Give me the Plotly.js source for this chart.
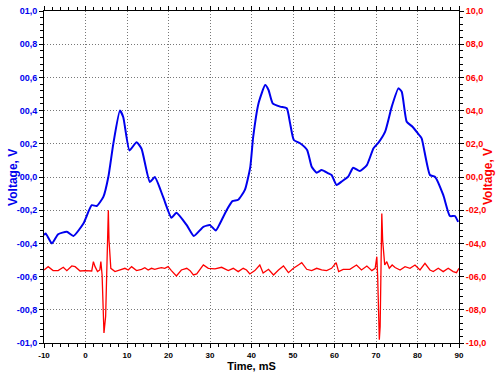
<!DOCTYPE html>
<html>
<head>
<meta charset="utf-8">
<script src="https://cdn.plot.ly/plotly-3.0.1.min.js"></script>
<style>html,body{margin:0;padding:0;background:#fff;}#chart{width:500px;height:377px;}</style>
</head>
<body>
<div id="chart"></div>
<script>
// Blue trace (left axis, V)
const blueTime = [-10,-9.6,-8.1,-6.6,-4.5,-2.9,-0.5,1.5,2.7,4.3,5.5,6.7,8.3,9.1,10.6,12.3,13.5,15.5,16.7,18.7,20.7,21.9,24.4,26.1,28.4,30,31.4,32.4,34.0,35.4,36.8,38.4,39.7,40.4,41.7,43.3,44.1,45.1,46.9,48.5,49.3,50.2,51.7,53.4,54.5,55.7,56.9,58.5,59.3,60.5,61.7,63.3,64.5,66.1,67.8,69.4,70.6,72.2,73.8,75.4,76.2,77.4,78.8,80.4,81.0,83.0,84.2,86.2,87.8,89.0,89.8];
const blueVolt = [-0.35,-0.34,-0.40,-0.345,-0.33,-0.355,-0.28,-0.17,-0.175,-0.12,0.00,0.20,0.40,0.36,0.16,0.21,0.17,-0.03,0.00,-0.12,-0.245,-0.215,-0.29,-0.355,-0.30,-0.29,-0.323,-0.28,-0.20,-0.145,-0.137,-0.078,0.06,0.24,0.445,0.554,0.524,0.444,0.424,0.414,0.323,0.223,0.203,0.163,0.062,0.026,0.042,0.022,0.012,-0.048,-0.028,0.002,0.056,0.036,0.072,0.173,0.207,0.273,0.424,0.534,0.514,0.333,0.303,0.253,0.233,0.012,0.002,-0.108,-0.235,-0.235,-0.27];

// Red trace (right axis, V)
const redTime = [-10,-9.0,-7.8,-6.6,-5.35,-4.5,-3.3,-2.5,-1.3,-0.1,1.5,1.9,2.3,2.9,3.45,3.7,4.0,4.3,4.45,4.85,5.1,5.25,5.5,5.66,6.1,7.1,8.3,9.5,10.3,11.1,12.3,13.5,14.3,15.1,15.9,16.7,17.5,18.3,19.1,19.9,20.7,21.9,23.1,24.4,25.2,26,26.8,28.4,29.6,31.2,32.8,34.4,35.6,36.8,38,38.8,39.6,40.8,42,42.8,44.1,45.3,46.5,47.7,48.9,50.1,51.3,52.1,53.3,54.5,55.7,56.9,58.1,59.3,60.4,61,62.1,63.7,65.3,66.5,67.8,69,69.8,70.2,70.4,70.6,70.8,71.0,71.2,71.4,71.6,72.1,72.6,73.2,73.9,74.6,75.8,77,78.2,79.4,80.6,81.8,83,83.8,85,86.2,87.4,88.6,89.4,90];
const redVolt = [-5.6,-5.4,-5.64,-5.64,-5.44,-5.64,-5.36,-5.4,-5.66,-5.64,-5.66,-5.1,-5.4,-5.7,-5.6,-5.1,-5.9,-7.8,-9.4,-8.4,-5.4,-3.7,-2.0,-3.8,-5.5,-5.7,-5.6,-5.5,-5.6,-5.4,-5.64,-5.56,-5.46,-5.6,-5.5,-5.56,-5.5,-5.46,-5.5,-5.4,-5.64,-5.96,-5.6,-5.5,-5.64,-5.9,-5.84,-5.3,-5.5,-5.54,-5.44,-5.64,-5.5,-5.7,-5.5,-5.6,-5.84,-5.64,-5.3,-5.78,-5.56,-5.9,-5.6,-5.36,-5.76,-5.5,-5.3,-5.16,-5.56,-5.64,-5.5,-5.6,-5.64,-5.5,-5.16,-5.7,-5.56,-5.56,-5.3,-5.6,-5.36,-5.64,-5.5,-4.8,-6.0,-8.4,-9.8,-9.0,-4.0,-2.2,-3.8,-5.3,-5.1,-5.5,-5.3,-5.45,-5.6,-5.4,-5.5,-5.3,-5.6,-5.2,-5.6,-5.7,-5.5,-5.7,-5.5,-5.7,-5.76,-5.5];

// Tick labels
const xTicks = [-10,0,10,20,30,40,50,60,70,80,90];
const leftTickVals = [1,0.8,0.6,0.4,0.2,0,-0.2,-0.4,-0.6,-0.8,-1];
const leftTickText = ["01,0","00,8","00,6","00,4","00,2","00,0","-00,2","-00,4","-00,6","-00,8","-01,0"];
const rightTickVals = [10,8,6,4,2,0,-2,-4,-6,-8,-10];
const rightTickText = ["10,0","08,0","06,0","04,0","02,0","00,0","-02,0","-04,0","-06,0","-08,0","-10,0"];

const FONT = "Liberation Sans, Arial, sans-serif";
const BLUE = "#0000ee";
const RED = "#ff0000";
const GRIDDASH = "1px,2px";

const traces = [
  {x: blueTime, y: blueVolt, type: "scatter", mode: "lines", line: {color: BLUE, width: 2, shape: "spline", smoothing: 0.5}, yaxis: "y", hoverinfo: "skip"},
  {x: redTime, y: redVolt, type: "scatter", mode: "lines", line: {color: RED, width: 1.3}, yaxis: "y2", hoverinfo: "skip"}
];

const layout = {
  width: 500, height: 377,
  margin: {l: 44, r: 41, t: 11, b: 34},
  paper_bgcolor: "#fff", plot_bgcolor: "#fff",
  showlegend: false,
  xaxis: {
    range: [-10, 90], tickvals: xTicks, ticktext: xTicks.map(String),
    showgrid: true, gridcolor: "#777", griddash: GRIDDASH, gridwidth: 1,
    zeroline: false, showline: true, linecolor: "#000", linewidth: 1, mirror: "ticks",
    ticks: "outside", ticklen: 4, tickcolor: "#000",
    minor: {dtick: 2, ticks: "outside", ticklen: 3, tickcolor: "#000", showgrid: false},
    tickfont: {family: FONT, size: 8, color: "#000", weight: "bold"},
    title: {text: "Time, mS", font: {family: FONT, size: 11, color: "#000", weight: "bold"}, standoff: 2},
    automargin: false
  },
  yaxis: {
    range: [-1, 1], tickvals: leftTickVals, ticktext: leftTickText,
    showgrid: true, gridcolor: "#777", griddash: GRIDDASH, gridwidth: 1,
    zeroline: false, showline: true, linecolor: "#000", linewidth: 1,
    ticks: "outside", ticklen: 4, tickcolor: "#000",
    minor: {dtick: 0.04, ticks: "outside", ticklen: 3, tickcolor: "#000", showgrid: false},
    tickfont: {family: FONT, size: 9, color: BLUE, weight: "bold"},
    automargin: false
  },
  yaxis2: {
    range: [-10, 10], tickvals: rightTickVals, ticktext: rightTickText,
    overlaying: "y", side: "right",
    showgrid: false, zeroline: false, showline: true, linecolor: "#000", linewidth: 1,
    ticks: "outside", ticklen: 4, tickcolor: "#000",
    minor: {dtick: 0.4, ticks: "outside", ticklen: 3, tickcolor: "#000", showgrid: false},
    tickfont: {family: FONT, size: 9, color: RED, weight: "bold"},
    automargin: false
  },
  annotations: [
    {text: "Voltage, V", xref: "paper", yref: "paper", x: -0.075, y: 0.5, textangle: -90, showarrow: false,
     xanchor: "center", yanchor: "middle", font: {family: FONT, size: 12, color: BLUE, weight: "bold"}},
    {text: "Voltage, V", xref: "paper", yref: "paper", x: 1.07, y: 0.5, textangle: -90, showarrow: false,
     xanchor: "center", yanchor: "middle", font: {family: FONT, size: 12, color: RED, weight: "bold"}}
  ]
};

Plotly.newPlot("chart", traces, layout, {staticPlot: true, displayModeBar: false});
</script>
</body>
</html>
